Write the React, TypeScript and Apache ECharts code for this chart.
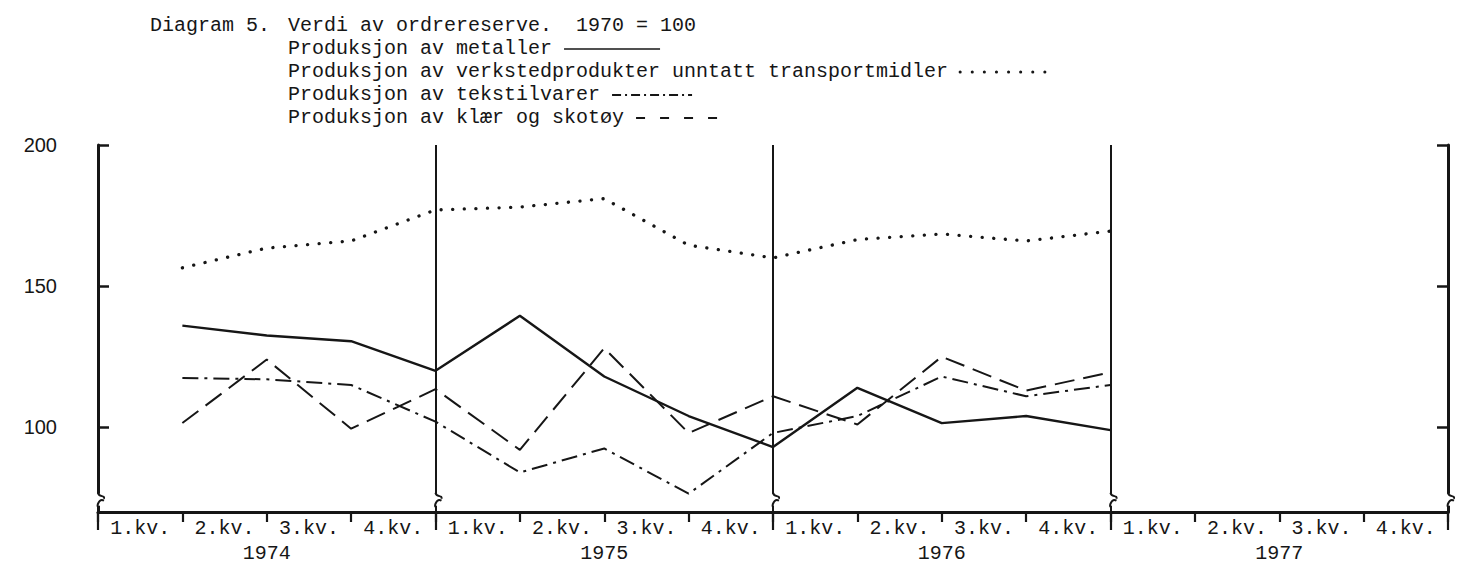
import React, { useEffect, useRef } from "react";
import * as echarts from "echarts";

const quarterLabels = [
  "1.kv.", "2.kv.", "3.kv.", "4.kv.",
  "1.kv.", "2.kv.", "3.kv.", "4.kv.",
  "1.kv.", "2.kv.", "3.kv.", "4.kv.",
  "1.kv.", "2.kv.", "3.kv.", "4.kv.",
];
const years = ["1974", "1975", "1976", "1977"];
// x position of each observation: end of quarter (quarters counted from start of 1974)
const quarterEnds = [1, 2, 3, 4, 5, 6, 7, 8, 9, 10, 11, 12];
const metaller = [136, 132.5, 130.5, 120, 139.5, 118, 104, 93, 114, 101.5, 104, 99];
const verksted = [156.5, 163.5, 166, 177, 178, 181, 164.5, 160, 166.5, 168.5, 166, 169.5];
const tekstil = [117.5, 117, 115, 102, 84, 92.5, 76.5, 98, 104, 118, 111, 115];
const klaer = [101.5, 124, 99.5, 113.5, 92, 128, 98, 111, 101, 125, 113, 119.5];
const yTickValues = [100, 150, 200];
const yearBoundaries = [0, 4, 8, 12, 16];

const titleLead = "Diagram 5.";
const titleText = "Verdi av ordrereserve.  1970 = 100";
const legendNames = [
  "Produksjon av metaller",
  "Produksjon av verkstedprodukter unntatt transportmidler",
  "Produksjon av tekstilvarer",
  "Produksjon av klær og skotøy",
];

const INK = "#161616";
const MONO = '"Liberation Mono", "DejaVu Sans Mono", monospace';
const SANS = '"Liberation Sans", Arimo, sans-serif';

const seriesStyles: any[] = [
  { width: 2.4, type: "solid" },
  { width: 3.3, type: [0.1, 11.5], cap: "round" },
  { width: 2, type: [16, 6, 3, 6] },
  { width: 2, type: [20, 9] },
];
// legend key samples: gap after text, length, dash pattern
const sampleGap = [12, 12, 12, 12];
const sampleLen = [96, 86, 80, 81];
const sampleDash: any[] = [null, [0.1, 12], [9, 4, 2, 4], [9, 15]];

export default function App() {
  const ref = useRef<HTMLDivElement>(null);
  useEffect(() => {
    document.body.style.margin = "0";
    const chart = echarts.init(ref.current!, undefined, { renderer: "svg" });
    const seriesData = [metaller, verksted, tekstil, klaer];

    const canvas = document.createElement("canvas");
    const ctx = canvas.getContext("2d")!;
    const textFont = `20px ${MONO}`;
    ctx.font = textFont;

    const textLeft = 288;
    const rowY = [25, 48, 71, 94, 117];

    const graphics: any[] = [
      { type: "text", x: 150, y: rowY[0], style: { text: titleLead, font: textFont, fill: INK, verticalAlign: "middle" } },
      { type: "text", x: textLeft, y: rowY[0], style: { text: titleText, font: textFont, fill: INK, verticalAlign: "middle" } },
    ];
    legendNames.forEach((name, i) => {
      const w = ctx.measureText(name).width;
      const y = rowY[i + 1];
      graphics.push({ type: "text", x: textLeft, y, style: { text: name, font: textFont, fill: INK, verticalAlign: "middle" } });
      const x1 = textLeft + w + sampleGap[i];
      graphics.push({
        type: "line",
        shape: { x1, y1: y + 1, x2: x1 + sampleLen[i], y2: y + 1 },
        style: {
          stroke: INK,
          lineWidth: i === 1 ? 3 : i === 0 ? 1.6 : 2,
          lineDash: sampleDash[i],
          lineCap: i === 1 ? "round" : "butt",
        },
      });
    });

    const option: any = {
      animation: false,
      backgroundColor: "#ffffff",
      grid: { left: 98, right: 13, top: 145, bottom: 52, containLabel: false },
      xAxis: [
        {
          type: "value",
          min: 0,
          max: 16,
          interval: 4,
          position: "bottom",
          axisLine: { show: true, lineStyle: { color: INK, width: 3 } },
          axisTick: { show: true, length: 18, lineStyle: { color: INK, width: 2.2 } },
          axisLabel: { show: false },
          splitLine: { show: true, lineStyle: { color: INK, width: 2 } },
        },
        {
          type: "category",
          data: quarterLabels,
          position: "bottom",
          axisLine: { show: false },
          axisTick: { show: true, length: 10, interval: 0, lineStyle: { color: INK, width: 2.2 } },
          axisLabel: { interval: 0, margin: 6, fontFamily: MONO, fontSize: 20, color: INK },
          splitLine: { show: false },
        },
        {
          type: "category",
          data: years,
          position: "bottom",
          axisLine: { show: false },
          axisTick: { show: false },
          axisLabel: { interval: 0, margin: 31, fontFamily: MONO, fontSize: 20, color: INK },
          splitLine: { show: false },
        },
      ],
      yAxis: [
        {
          type: "value",
          min: 70,
          max: 200,
          interval: 10,
          position: "left",
          axisLine: { show: true, lineStyle: { color: INK, width: 3 } },
          axisTick: { show: true, inside: true, length: 11, customValues: yTickValues, lineStyle: { color: INK, width: 2.5 } },
          axisLabel: { show: true, customValues: yTickValues, margin: 41, fontFamily: SANS, fontSize: 20, color: INK },
          splitLine: { show: false },
        },
        {
          type: "value",
          min: 70,
          max: 200,
          interval: 10,
          position: "right",
          axisLine: { show: true, lineStyle: { color: INK, width: 3 } },
          axisTick: { show: true, inside: true, length: 11, customValues: yTickValues, lineStyle: { color: INK, width: 2.5 } },
          axisLabel: { show: false },
          splitLine: { show: false },
        },
      ],
      series: legendNames.map((name, i) => ({
        name,
        type: "line",
        xAxisIndex: 0,
        yAxisIndex: 0,
        symbol: "none",
        silent: true,
        data: quarterEnds.map((q, j) => [q, seriesData[i][j]]),
        lineStyle: { color: INK, ...seriesStyles[i] },
        z: 3,
      })),
      graphic: graphics,
    };
    chart.setOption(option);

    // break symbols on the vertical lines near the bottom of the value axis
    const breaks: any[] = [];
    yearBoundaries.forEach((b) => {
      const p = chart.convertToPixel({ xAxisIndex: 0, yAxisIndex: 0 }, [b, 74]) as number[];
      const x = p[0];
      const y = p[1];
      breaks.push({
        type: "rect",
        shape: { x: x - 4, y: y - 7, width: 8, height: 12 },
        style: { fill: "#ffffff" },
        z: 10,
      });
      breaks.push({
        type: "bezierCurve",
        shape: { x1: x, y1: y - 8, cpx1: x + 1, cpy1: y - 3, cpx2: x + 7, cpy2: y - 6, x2: x + 6, y2: y - 2 },
        style: { stroke: INK, lineWidth: 2, fill: null },
        z: 11,
      });
      breaks.push({
        type: "bezierCurve",
        shape: { x1: x + 6, y1: y, cpx1: x + 1, cpy1: y - 3, cpx2: x - 1, cpy2: y + 5, x2: x, y2: y + 6 },
        style: { stroke: INK, lineWidth: 2, fill: null },
        z: 11,
      });
    });
    chart.setOption({ graphic: graphics.concat(breaks) }, { replaceMerge: ["graphic"] });

    return () => chart.dispose();
  }, []);
  return <div ref={ref} style={{ width: 1461, height: 564 }} />;
}
